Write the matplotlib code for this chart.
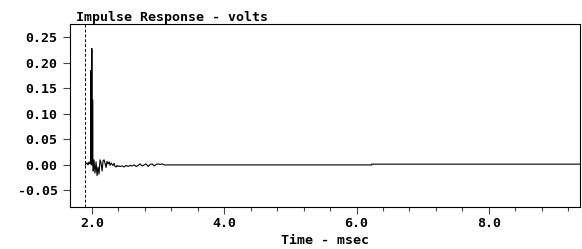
import numpy as np
import matplotlib
matplotlib.use('Agg')
import matplotlib.pyplot as plt
from matplotlib.ticker import MultipleLocator, FormatStrFormatter

# Impulse response samples (time in msec, amplitude in volts)
time_ms = [1.900, 1.909, 1.924, 1.939, 1.955, 1.970, 1.978, 1.981, 1.986, 1.990,
           1.994, 1.997, 2.001, 2.006, 2.009, 2.013, 2.018, 2.030, 2.045, 2.061,
           2.076, 2.091, 2.106, 2.121, 2.136, 2.152, 2.167, 2.182, 2.197, 2.212,
           2.227, 2.242, 2.258, 2.273, 2.288, 2.303, 2.318, 2.333, 2.348, 2.364,
           2.379, 2.394, 2.409, 2.424, 2.455, 2.485, 2.515, 2.545, 2.576, 2.606,
           2.636, 2.667, 2.697, 2.727, 2.758, 2.788, 2.818, 2.848, 2.879, 2.909,
           2.939, 2.970, 3.000, 3.030, 3.061, 3.091, 3.110, 6.230, 6.231, 9.380]
volts = [0.000, 0.002, 0.004, 0.000, 0.006, 0.002, 0.004, 0.185, 0.170, 0.000,
         0.010, 0.228, 0.000, 0.002, 0.127, 0.000, -0.012, 0.010, -0.016, 0.006,
         -0.021, -0.004, -0.018, 0.010, 0.004, -0.012, 0.008, 0.010, 0.003, -0.005,
         0.007, 0.002, 0.006, -0.001, 0.004, 0.001, -0.001, 0.003, -0.003, -0.004,
         -0.001, -0.003, -0.002, -0.003, -0.002, -0.004, -0.001, -0.003, -0.001, -0.002,
         0.000, -0.003, -0.001, 0.002, -0.002, 0.000, 0.002, -0.003, 0.001, 0.002,
         -0.002, 0.001, 0.002, 0.001, 0.002, 0.000, 0.000, 0.000, 0.0015, 0.0015]

marker_time = 1.90

font = {'family': 'DejaVu Sans Mono', 'weight': 'bold', 'size': 9.5}

fig = plt.figure(figsize=(5.82, 2.49), dpi=100)
ax = fig.add_axes([0.1203, 0.1675, 0.8763, 0.7361])

ax.plot(time_ms, volts, color='black', linewidth=0.8)
ax.axvline(marker_time, color='black', linewidth=0.7, linestyle=(0, (3, 2)))

ax.set_xlim(1.667, 9.38)
ax.set_ylim(-0.083, 0.276)

ax.xaxis.set_major_locator(MultipleLocator(2.0))
ax.xaxis.set_minor_locator(MultipleLocator(0.4))
ax.yaxis.set_major_locator(MultipleLocator(0.05))
ax.xaxis.set_major_formatter(FormatStrFormatter('%.1f'))
ax.yaxis.set_major_formatter(FormatStrFormatter('%.2f'))

ax.tick_params(axis='y', which='major', length=5, width=0.8, color='#444444', pad=4)
ax.tick_params(axis='x', which='major', length=5, width=0.8, color='#444444', pad=2)
ax.tick_params(axis='x', which='minor', length=3, width=0.8, color='#444444')
for lab in ax.get_xticklabels() + ax.get_yticklabels():
    lab.set_fontfamily(font['family'])
    lab.set_fontweight(font['weight'])
    lab.set_fontsize(font['size'])

for sp in ax.spines.values():
    sp.set_linewidth(0.8)

ax.set_title('Impulse Response - volts', loc='left', x=0.012, pad=2, **font)
ax.set_xlabel('Time - msec', labelpad=3, **font)

fig.savefig('out.png', dpi=100)
